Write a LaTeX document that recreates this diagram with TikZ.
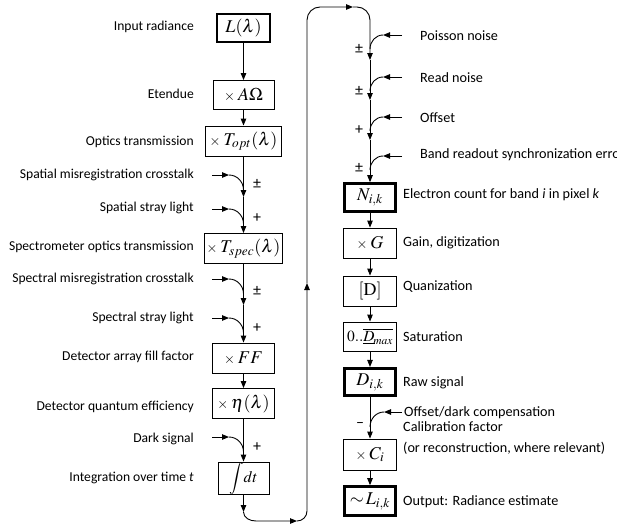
\documentclass[tikz,border=0pt]{standalone}
\usepackage{mathptmx}
\usepackage[no-math]{fontspec}
\setmainfont{Carlito}
\usetikzlibrary{arrows.meta}
\tikzset{
  lbl/.style={font=\fontsize{13.6}{16}\selectfont, inner sep=0pt},
  llbl/.style={lbl, anchor=east},
  rlbl/.style={lbl, anchor=west, font=\fontsize{14.2}{16}\selectfont},
  sgn/.style={font=\fontsize{16}{18}\selectfont, inner sep=0pt},
  box/.style={draw, line width=0.9pt, inner sep=0pt, font=\fontsize{18}{20}\selectfont},
  tbox/.style={box, line width=2.6pt},
  ln/.style={line width=0.9pt},
  arr/.style={ln, -{Triangle[length=7pt,width=5.5pt]}},
}
\newcommand{\tms}{{\fontsize{14}{14}\selectfont$\times$}\,}
\begin{document}
\begin{tikzpicture}[x=1pt,y=-1pt]
\useasboundingbox (0,0) rectangle (617,525);
% ---------- left column boxes ----------
\node[tbox, minimum width=53pt, minimum height=28pt] (Lin) at (243.5,28) {$L(\lambda)$};
\node[box, minimum width=61pt, minimum height=29pt] (Aom) at (243.5,95) {\tms$A\Omega$};
\node[box, minimum width=76pt, minimum height=30pt] (Topt) at (243.5,141) {\tms$T_{opt}(\lambda)$};
\node[box, minimum width=78pt, minimum height=30pt] (Tspec) at (243.5,248.5) {\tms$T_{spec}(\lambda)$};
\node[box, minimum width=62pt, minimum height=30pt] (FF) at (243.5,358) {\tms$FF$};
\node[box, minimum width=62pt, minimum height=30pt] (Eta) at (243.5,403.5) {\tms$\eta(\lambda)$};
\node[box, minimum width=51pt, minimum height=30pt, font=\fontsize{16}{18}\selectfont] (Int) at (243.5,478) {$\displaystyle\int\! dt$};
% ---------- left labels ----------
\node[llbl] (tLin) at (194,27) {Input radiance};
\node[llbl] (tAom) at (194,94) {Etendue};
\node[llbl] (tTopt) at (194,142) {Optics transmission};
\node[llbl] (tS1) at (194,175) {Spatial misregistration crosstalk};
\node[llbl] (tS2) at (194,208) {Spatial stray light};
\node[llbl] (tTspec) at (194,247) {Spectrometer optics transmission};
\node[llbl] (tS3) at (194,279) {Spectral misregistration crosstalk};
\node[llbl] (tS4) at (194,318) {Spectral stray light};
\node[llbl] (tFF) at (194,357) {Detector array fill factor};
\node[llbl] (tEta) at (194,407) {Detector quantum efficiency};
\node[llbl] (tDark) at (194,439) {Dark signal};
\node[llbl] (tInt) at (194,478) {Integration over time \textit{t}};
% ---------- left junctions ----------
\coordinate (j1) at (243.5,197);
\coordinate (j2) at (243.5,305);
\coordinate (m1) at (243.5,190);
\coordinate (m2) at (243.5,224);
\coordinate (m3) at (243.5,294);
\coordinate (m4) at (243.5,333);
\coordinate (m5) at (243.5,452);
\coordinate (s1) at (212,175); \coordinate (e1) at (229,175);
\coordinate (s2) at (212,209); \coordinate (e2) at (229,209);
\coordinate (s3) at (212,279); \coordinate (e3) at (229,279);
\coordinate (s4) at (212,318); \coordinate (e4) at (229,318);
\coordinate (s5) at (212,437); \coordinate (e5) at (229,437);
\draw[arr] (Lin) -- (Aom);
\draw[arr] (Aom) -- (Topt);
\draw[arr] (Topt) -- (j1);
\draw[arr] (j1) -- (Tspec);
\draw[arr] (Tspec) -- (j2);
\draw[arr] (j2) -- (FF);
\draw[arr] (FF) -- (Eta);
\draw[arr] (Eta) -- (Int);
\foreach \i in {1,...,5}{
  \draw[arr] (s\i) -- (e\i);
  \draw[ln] (e\i) to[out=0,in=90] (m\i);
}
\node[sgn] (p1) at (257,184) {±};
\node[sgn] (p2) at (257,218) {+};
\node[sgn] (p3) at (257,291) {±};
\node[sgn] (p4) at (257,328) {+};
\node[sgn] (p5) at (257,447) {+};
% ---------- loop ----------
\coordinate (b1) at (243.5,512);
\coordinate (b2) at (297,521);
\coordinate (u1) at (307,283);
\coordinate (t1) at (353,7);
\coordinate (r1) at (370,60);
\coordinate (r2) at (370,100);
\coordinate (r3) at (370,140);
\draw[arr] (Int) -- (b1);
\draw[arr] (b1) to[out=-90,in=180] (256,521) -- (b2);
\draw[arr] (b2) to[out=0,in=-90] (307,511) -- (u1);
\draw[arr] (u1) -- (307,20) to[out=90,in=180] (320,7) -- (t1);
\draw[arr] (t1) -- (357,7) to[out=0,in=90] (370,20) -- (r1);
% ---------- right column boxes ----------
\node[tbox, minimum width=51.5pt, minimum height=28pt] (N) at (370,197.5) {$N_{i,k}$};
\node[box, minimum width=53pt, minimum height=30pt] (G) at (370,243) {\tms$G$};
\node[box, minimum width=53pt, minimum height=30pt] (Q) at (370,291) {$[\mathrm{D}]$};
\node[box, minimum width=53pt, minimum height=29pt, font=\fontsize{15.5}{17}\selectfont] (Sat) at (370,336.5) {$0..\overline{\underline{D}_{\!max}}$};
\node[tbox, minimum width=51.5pt, minimum height=27.5pt] (Dik) at (370,382) {$D_{i,k}$};
\node[box, minimum width=53pt, minimum height=31pt] (Ci) at (370,454.5) {\tms$C_i$};
\node[tbox, minimum width=51.5pt, minimum height=29pt] (Lout) at (370,501) {$\sim\!L_{i,k}$};
% ---------- right junctions ----------
\coordinate (n1) at (370,49);
\coordinate (n2) at (370,91);
\coordinate (n3) at (370,131);
\coordinate (n4) at (370,170);
\coordinate (n5) at (370,427);
\coordinate (q1) at (402,35); \coordinate (f1) at (383,35);
\coordinate (q2) at (402,77); \coordinate (f2) at (383,77);
\coordinate (q3) at (402,117); \coordinate (f3) at (383,117);
\coordinate (q4) at (402,156); \coordinate (f4) at (383,156);
\coordinate (q5) at (402,412); \coordinate (f5) at (384,412);
\draw[arr] (r1) -- (r2);
\draw[arr] (r2) -- (r3);
\draw[arr] (r3) -- (N);
\draw[arr] (N) -- (G);
\draw[arr] (G) -- (Q);
\draw[arr] (Q) -- (Sat);
\draw[arr] (Sat) -- (Dik);
\draw[arr] (Dik) -- (Ci);
\draw[arr] (Ci) -- (Lout);
\foreach \i in {1,...,5}{
  \draw[arr] (q\i) -- (f\i);
  \draw[ln] (f\i) to[out=180,in=90] (n\i);
}
\node[sgn] (pr1) at (359,49) {±};
\node[sgn] (pr2) at (359,91) {±};
\node[sgn] (pr3) at (359,130) {+};
\node[sgn] (pr4) at (359,168) {±};
\node[sgn] (pr5) at (360,425) {–};
% ---------- right labels ----------
\node[rlbl] (tP) at (420,36) {Poisson noise};
\node[rlbl] (tR) at (420,78) {Read noise};
\node[rlbl] (tO) at (420,118) {Offset};
\node[rlbl] (tB) at (420,155) {Band readout synchronization error};
\node[rlbl] (tN) at (403,195) {Electron count for band \textit{i} in pixel \textit{k}};
\node[rlbl] (tG) at (403,243) {Gain, digitization};
\node[rlbl] (tQ) at (403,287) {Quanization};
\node[rlbl] (tSat) at (403,337) {Saturation};
\node[rlbl] (tD) at (403,383) {Raw signal};
\node[rlbl] (tOD) at (404,413) {Offset/dark compensation};
\node[rlbl, align=left, font=\fontsize{14.2}{21}\selectfont] (tC) at (403,438) {Calibration factor\\(or reconstruction, where relevant)};
\node[rlbl] (tL) at (403,502) {Output: Radiance estimate};
\end{tikzpicture}
\end{document}
